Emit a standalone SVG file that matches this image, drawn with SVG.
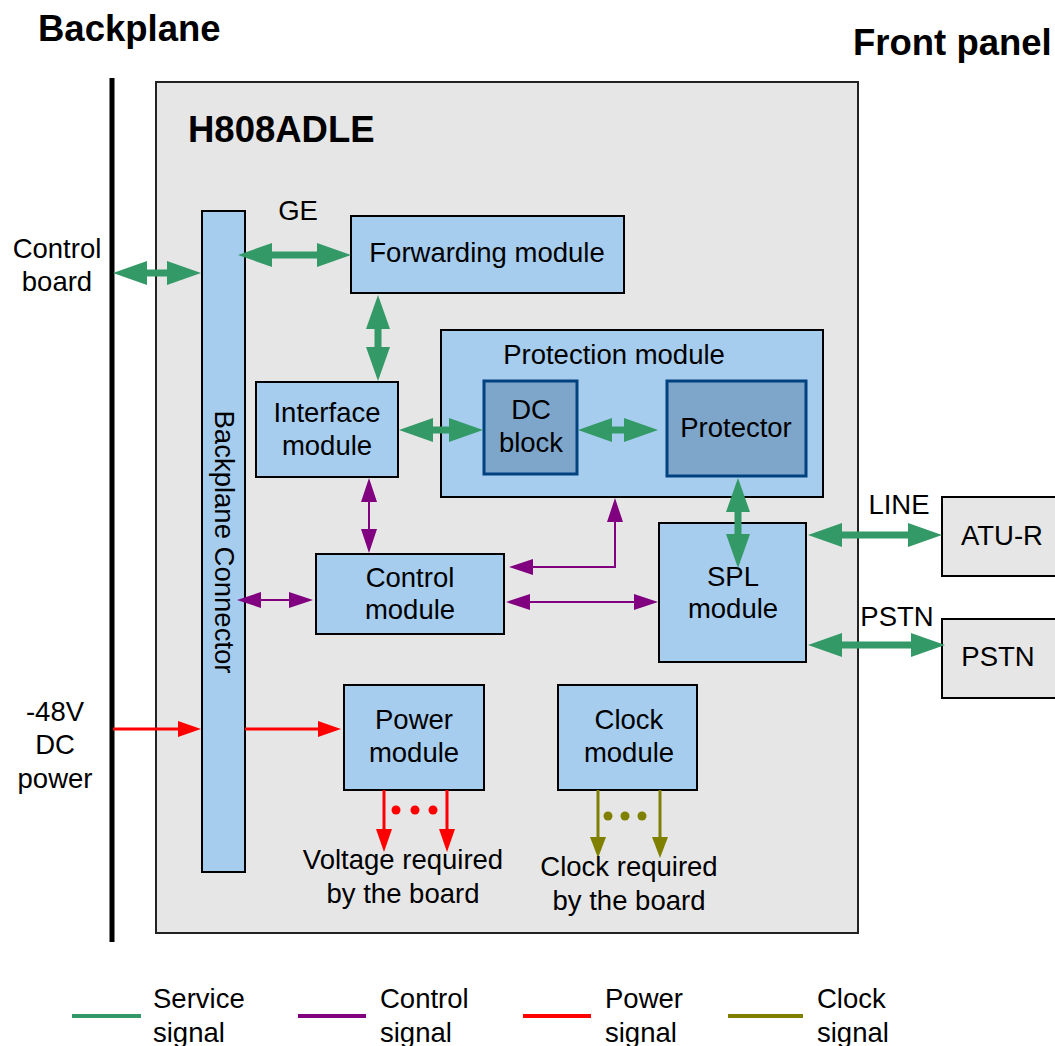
<svg xmlns="http://www.w3.org/2000/svg" width="1055" height="1046" viewBox="0 0 1055 1046">
<defs>
<style>
text{font-family:"Liberation Sans",Arial,sans-serif;font-size:27.5px;fill:#000}
.c{text-anchor:middle}
.b{font-weight:bold;font-size:36.5px}
.mod{fill:#A6CDEE;stroke:#000;stroke-width:2}
.dark{fill:#7EA6CB;stroke:#00417F;stroke-width:3}
.ext{fill:#E6E6E6;stroke:#000;stroke-width:2}
.g{fill:none;stroke:#339966;stroke-width:7;marker-start:url(#gh);marker-end:url(#gh)}
.p{fill:none;stroke:#800080;stroke-width:2;marker-start:url(#ph);marker-end:url(#ph)}
.r{fill:none;stroke:#FF0000;stroke-width:3;marker-end:url(#rh)}
.o{fill:none;stroke:#808000;stroke-width:3;marker-end:url(#oh)}
</style>
<marker id="gh" markerUnits="userSpaceOnUse" markerWidth="34" markerHeight="24" refX="0" refY="12" orient="auto-start-reverse"><path d="M0,0 L34,12 L0,24 z" fill="#339966"/></marker>
<marker id="ph" markerUnits="userSpaceOnUse" markerWidth="24" markerHeight="16" refX="0" refY="8" orient="auto-start-reverse"><path d="M0,0 L24,8 L0,16 z" fill="#800080"/></marker>
<marker id="rh" markerUnits="userSpaceOnUse" markerWidth="23" markerHeight="16" refX="0" refY="8" orient="auto-start-reverse"><path d="M0,0 L23,8 L0,16 z" fill="#FF0000"/></marker>
<marker id="oh" markerUnits="userSpaceOnUse" markerWidth="21" markerHeight="16" refX="0" refY="8" orient="auto-start-reverse"><path d="M0,0 L21,8 L0,16 z" fill="#808000"/></marker>
</defs>
<rect width="1055" height="1046" fill="#fff"/>
<g id="titles">
<text class="b" x="38" y="41">Backplane</text>
<text class="b" x="853" y="55">Front panel</text>
</g>
<g id="board">
<rect x="156" y="82" width="702" height="851" fill="#E6E6E6" stroke="#222" stroke-width="2"/>
<text class="b" x="188" y="142">H808ADLE</text>
</g>
<g id="backplane-line"><line x1="112" y1="78" x2="112" y2="942" stroke="#000" stroke-width="5"/></g>
<g id="backplane-connector">
<rect class="mod" x="202" y="211" width="43" height="661"/>
<text class="c" transform="translate(215,542) rotate(90)">Backplane Connector</text>
</g>
<g id="forwarding"><rect class="mod" x="351" y="216" width="273" height="77"/><text class="c" x="487" y="262">Forwarding module</text></g>
<g id="protection">
<rect class="mod" x="441" y="330" width="382" height="167"/>
<text class="c" x="614" y="364">Protection module</text>
</g>
<g id="dcblock"><rect class="dark" x="484" y="381" width="93" height="93"/><text class="c" x="531" y="419">DC</text><text class="c" x="531" y="452">block</text></g>
<g id="protector"><rect class="dark" x="667" y="381" width="139" height="95"/><text class="c" x="736" y="437">Protector</text></g>
<g id="interface"><rect class="mod" x="256" y="382" width="142" height="95"/><text class="c" x="327" y="422">Interface</text><text class="c" x="327" y="455">module</text></g>
<g id="control"><rect class="mod" x="316" y="554" width="188" height="80"/><text class="c" x="410" y="587">Control</text><text class="c" x="410" y="619">module</text></g>
<g id="spl"><rect class="mod" x="659" y="523" width="147" height="139"/><text class="c" x="733" y="586">SPL</text><text class="c" x="733" y="618">module</text></g>
<g id="power"><rect class="mod" x="344" y="685" width="140" height="105"/><text class="c" x="414" y="729">Power</text><text class="c" x="414" y="762">module</text></g>
<g id="clock"><rect class="mod" x="558" y="685" width="139" height="105"/><text class="c" x="629" y="729">Clock</text><text class="c" x="629" y="762">module</text></g>
<g id="atur"><rect class="ext" x="942" y="497" width="120" height="79"/><text class="c" x="1002" y="545">ATU-R</text></g>
<g id="pstn"><rect class="ext" x="942" y="619" width="120" height="79"/><text class="c" x="998" y="666">PSTN</text></g>
<g id="connectors">
<path class="g" d="M147,273 H167"/>
<path class="g" d="M272,255 H317"/>
<path class="g" d="M378,329 V347"/>
<path class="g" d="M433,430 H449"/>
<path class="g" d="M612,430 H624"/>
<path class="g" d="M738,512 V534"/>
<path class="g" d="M842,535 H908"/>
<path class="g" d="M842,645 H911"/>
<path class="p" d="M369,502 V529"/>
<path class="p" d="M615,522 V567 H533"/>
<path class="p" d="M261,600 H289"/>
<path class="p" d="M530,602 H634"/>
<path class="r" d="M113,729 H178"/>
<path class="r" d="M245,729 H318"/>
<path class="r" d="M384,790 V829"/>
<path class="r" d="M447,790 V829"/>
<path class="o" d="M598,790 V837"/>
<path class="o" d="M660,790 V837"/>
<g fill="#FF0000"><circle cx="396" cy="810" r="4.5"/><circle cx="415" cy="810" r="4.5"/><circle cx="433" cy="810" r="4.5"/></g>
<g fill="#808000"><circle cx="608" cy="816" r="4.5"/><circle cx="625" cy="816" r="4.5"/><circle cx="642" cy="816" r="4.5"/></g>
</g>
<g id="labels">
<text class="c" x="57" y="258">Control</text><text class="c" x="57" y="291">board</text>
<text class="c" x="55" y="721">-48V</text><text class="c" x="55" y="754">DC</text><text class="c" x="55" y="788">power</text>
<text class="c" x="298" y="220">GE</text>
<text class="c" x="899" y="514">LINE</text>
<text class="c" x="897" y="626">PSTN</text>
<text class="c" x="403" y="869">Voltage required</text><text class="c" x="403" y="903">by the board</text>
<text class="c" x="629" y="876">Clock required</text><text class="c" x="629" y="910">by the board</text>
</g>
<g id="legend">
<line x1="72" y1="1016" x2="141" y2="1016" stroke="#339966" stroke-width="4"/>
<line x1="298" y1="1016" x2="366" y2="1016" stroke="#800080" stroke-width="4"/>
<line x1="523" y1="1016" x2="591" y2="1016" stroke="#FF0000" stroke-width="4"/>
<line x1="728" y1="1016" x2="803" y2="1016" stroke="#808000" stroke-width="4"/>
<text x="153" y="1008">Service</text><text x="153" y="1042">signal</text>
<text x="380" y="1008">Control</text><text x="380" y="1042">signal</text>
<text x="605" y="1008">Power</text><text x="605" y="1042">signal</text>
<text x="817" y="1008">Clock</text><text x="817" y="1042">signal</text>
</g>
</svg>
